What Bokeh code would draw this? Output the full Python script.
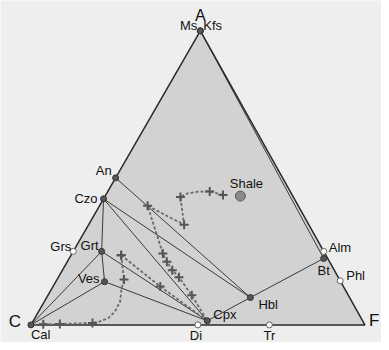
import numpy as np
from bokeh.plotting import figure
from bokeh.models import ColumnDataSource, Range1d
from bokeh.core.properties import value
from bokeh.embed import file_html
from bokeh.resources import INLINE

# ---------------- data (ACF fractions) ----------------
vertex_labels = ["A", "C", "F"]
vertex_A = [1.0, 0.0, 0.0]
vertex_F = [0.0, 0.0, 1.0]

phase_names = ["Ms", "Kfs", "An", "Czo", "Grs", "Grt", "Ves", "Cal",
               "Cpx", "Di", "Tr", "Hbl", "Bt", "Alm", "Phl", "Shale"]
phase_A = [1.0, 1.0, 0.5, 0.4286, 0.25, 0.25, 0.147, 0.0,
           0.014, 0.0, 0.0, 0.093, 0.226, 0.25, 0.15, 0.438]
phase_C = [0.0, 0.0, 0.5, 0.5714, 0.75, 0.665, 0.707, 1.0,
           0.465, 0.5, 0.286, 0.297, 0.012, 0.0, 0.0, 0.157]
phase_F = [0.0, 0.0, 0.0, 0.0, 0.0, 0.085, 0.146, 0.0,
           0.521, 0.5, 0.714, 0.61, 0.762, 0.75, 0.85, 0.405]
phase_kind = ["solid", "solid", "solid", "solid", "open", "solid", "solid", "solid",
              "solid", "open", "open", "solid", "solid", "open", "open", "rock"]

tie_lines = [("Ms", "Bt"), ("An", "Hbl"), ("Czo", "Hbl"), ("Czo", "Cpx"),
             ("Czo", "Grt"), ("Grt", "Cpx"), ("Grt", "Ves"), ("Grt", "Cal"),
             ("Ves", "Cal"), ("Ves", "Cpx"), ("Cpx", "Hbl"), ("Hbl", "Bt")]

# reaction paths (A, F) with cross markers flagged
path1_A = [0.442, 0.454, 0.4528, 0.4475, 0.435, 0.3405, 0.405,
           0.2425, 0.215, 0.186, 0.162, 0.1007, 0.014]
path1_F = [0.351, 0.305, 0.269, 0.2425, 0.227, 0.286, 0.144,
           0.272, 0.298, 0.329, 0.361, 0.4306, 0.521]
path1_cross = [1, 1, 0, 0, 1, 1, 1, 1, 1, 1, 1, 1, 0]

path2_A = [0.237, 0.154, 0.123, 0.0787, 0.0455, 0.0233, 0.0123,
           0.0066, 0.0033, 0.002, 0.0]
path2_F = [0.150, 0.2007, 0.209, 0.227, 0.2286, 0.22, 0.201,
           0.181, 0.085, 0.036, 0.0]
path2_cross = [1, 1, 0, 0, 0, 0, 0, 1, 1, 1, 0]

path3_A = [0.237, 0.1306, 0.014]
path3_F = [0.150, 0.321, 0.521]
path3_cross = [1, 1, 0]

# ---------------- layout / style ----------------
APEX_X = 0.5073          # horizontal position of the A apex (data units)
BG = "#eeeeee"
TRI_FILL = "#d2d2d2"
FONT = "Liberation Sans"
W, H = 381, 342
X0, XS = 30.4, 334.0      # px of C vertex, px per unit x
Y0, YS = 17.6, 294.1      # px from bottom of base, px per unit y

label_style = {  # align, dx(px), dy(px, down positive), size
    "Ms": ("right", -3, -5, "13px"), "Kfs": ("left", 3, -5, "13px"),
    "An": ("right", -4, -7, "13px"), "Czo": ("right", -6, 0, "13px"),
    "Grs": ("right", -2, -5, "13px"), "Grt": ("right", -3, -6, "13px"),
    "Ves": ("right", -5, -3, "13px"), "Cal": ("left", 0, 10, "13px"),
    "Cpx": ("left", 6, -6, "13px"), "Di": ("center", -2, 11, "13px"),
    "Tr": ("center", 0, 11, "13px"), "Hbl": ("left", 8, 7, "13px"),
    "Bt": ("center", 0, 12, "13px"), "Alm": ("left", 5, -4, "13px"),
    "Phl": ("left", 6, -5, "13px"), "Shale": ("center", 6, -13, "13px"),
}
vertex_style = {"A": ("center", 0, -15, "16px"), "C": ("center", -16, -3, "17px"),
                "F": ("left", 4, -4, "17px")}


def proj(A, F):
    A = np.asarray(A, dtype=float)
    F = np.asarray(F, dtype=float)
    return F + APEX_X * A, A


p = figure(width=W, height=H, output_backend="svg", toolbar_location=None,
           x_range=Range1d(-X0 / XS, (W - X0) / XS),
           y_range=Range1d(-Y0 / YS, (H - Y0) / YS),
           min_border=0, title=None)
p.axis.visible = False
p.grid.visible = False
p.outline_line_color = None
p.background_fill_color = BG
p.border_fill_color = BG

# triangle
tx, ty = proj(vertex_A, vertex_F)
p.patch(list(tx), list(ty), fill_color=TRI_FILL, line_color=None)

# tie lines
idx = {n: i for i, n in enumerate(phase_names)}
px_, py_ = proj(phase_A, phase_F)
xs = [[px_[idx[a]], px_[idx[b]]] for a, b in tie_lines]
ys = [[py_[idx[a]], py_[idx[b]]] for a, b in tie_lines]
p.multi_line(xs, ys, line_color="#3a3a3a", line_width=1)

# triangle edges
p.line(list(tx) + [tx[0]], list(ty) + [ty[0]], line_color="#2a2a2a", line_width=1.5)

# reaction paths
for pa, pf, pc in [(path1_A, path1_F, path1_cross), (path2_A, path2_F, path2_cross),
                   (path3_A, path3_F, path3_cross)]:
    x, y = proj(pa, pf)
    p.line(x, y, line_color="#6a6a6a", line_width=1.8, line_dash="3 2")
    m = np.asarray(pc) == 1
    p.scatter(x[m], y[m], marker="cross", size=9, line_color="#555555", line_width=2)

# phase points
kind = np.asarray(phase_kind)
for k, kw in [("solid", dict(size=6, fill_color="#555555", line_color="#333333")),
              ("open", dict(size=6, fill_color="white", line_color="#666666")),
              ("rock", dict(size=10, fill_color="#8a8a8a", line_color="#5a5a5a"))]:
    m = kind == k
    p.scatter(px_[m], py_[m], marker="circle", line_width=1, **kw)

# labels
lab = dict(x=[], y=[], text=[], align=[], dx=[], dy=[], size=[])
for i, n in enumerate(phase_names):
    a, dx, dy, s = label_style[n]
    lab["x"].append(px_[i]); lab["y"].append(py_[i]); lab["text"].append(n)
    lab["align"].append(a); lab["dx"].append(dx); lab["dy"].append(dy); lab["size"].append(s)
for i, n in enumerate(vertex_labels):
    a, dx, dy, s = vertex_style[n]
    lab["x"].append(tx[i]); lab["y"].append(ty[i]); lab["text"].append(n)
    lab["align"].append(a); lab["dx"].append(dx); lab["dy"].append(dy); lab["size"].append(s)
src = ColumnDataSource(lab)
p.text(x="x", y="y", text="text", source=src, text_align="align",
       text_baseline="middle", x_offset="dx", y_offset="dy",
       text_font=value(FONT), text_font_size="size", text_color="#111111")

open("out.html", "w").write(file_html(p, INLINE, title="ACF diagram"))
